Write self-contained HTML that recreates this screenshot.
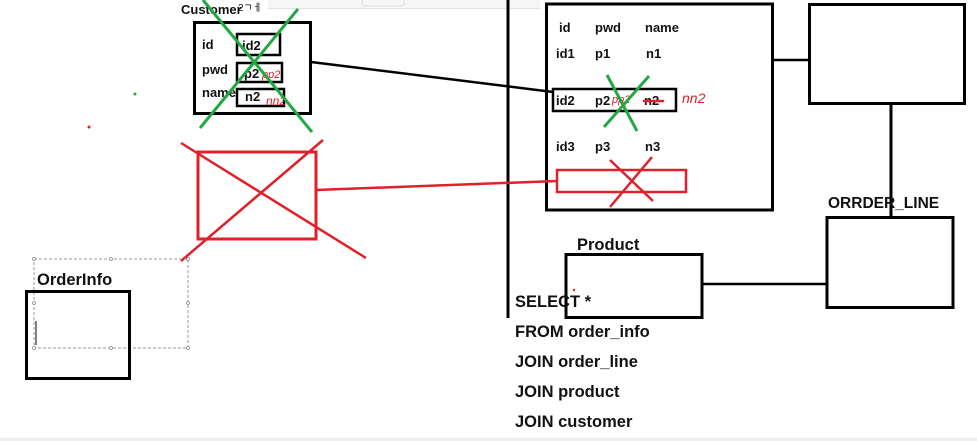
<!DOCTYPE html>
<html><head><meta charset="utf-8"><style>
html,body{margin:0;padding:0;background:#fff;width:977px;height:441px;overflow:hidden}
svg{display:block}
text{font-family:"Liberation Sans","Noto Sans CJK KR",sans-serif;font-weight:bold;fill:#111}
</style></head><body>
<svg width="977" height="441" viewBox="0 0 977 441" xmlns="http://www.w3.org/2000/svg">
<rect x="0" y="0" width="977" height="441" fill="#fff"/>
<rect x="268" y="0" width="272" height="8" fill="#f6f6f6"/>
<line x1="268" y1="8.5" x2="540" y2="8.5" stroke="#e2e2e2"/>
<rect x="362" y="-4" width="42" height="10" rx="3" fill="none" stroke="#ddd"/>
<rect x="0" y="438" width="977" height="3" fill="#eee"/>

<text x="181" y="14" font-size="13">Customer</text>
<text x="238" y="11" font-size="10" style="font-weight:normal">2ㄱㅔ</text>
<rect x="194.5" y="22.5" width="116" height="91" fill="none" stroke="#000" stroke-width="3"/>
<text x="202" y="49" font-size="13">id</text>
<text x="202" y="74" font-size="13">pwd</text>
<text x="202" y="97" font-size="13">name</text>
<rect x="237" y="34" width="43" height="21" fill="none" stroke="#000" stroke-width="2.5"/>
<text x="242" y="50" font-size="13">id2</text>
<rect x="237" y="63" width="45" height="19" fill="none" stroke="#000" stroke-width="2.5"/>
<text x="244" y="78" font-size="13">p2</text>
<rect x="237" y="89" width="47" height="17" fill="none" stroke="#000" stroke-width="2.5"/>
<text x="245" y="101" font-size="13">n2</text>
<text x="262" y="78" font-size="11" style="font-weight:normal;font-style:italic;fill:#e0202a">pp2</text>
<text x="266" y="105" font-size="12" style="font-weight:normal;font-style:italic;fill:#e0202a">nn2</text>
<line x1="200" y1="128" x2="298" y2="9" stroke="#22a843" stroke-width="3"/>
<line x1="203" y1="0" x2="312" y2="132" stroke="#22a843" stroke-width="3"/>

<circle cx="135" cy="94" r="1.5" fill="#22a843"/>
<circle cx="89" cy="127" r="1.5" fill="#e0202a"/>

<line x1="311" y1="62" x2="553" y2="92" stroke="#000" stroke-width="2.5"/>
<line x1="508" y1="0" x2="508" y2="318" stroke="#000" stroke-width="3"/>

<rect x="546.5" y="4" width="226" height="206" fill="none" stroke="#000" stroke-width="3"/>
<text x="559" y="32" font-size="13">id</text>
<text x="595" y="32" font-size="13">pwd</text>
<text x="645" y="32" font-size="13">name</text>
<text x="556" y="58" font-size="13">id1</text>
<text x="595" y="58" font-size="13">p1</text>
<text x="646" y="58" font-size="13">n1</text>
<rect x="553" y="89" width="123" height="22" fill="none" stroke="#000" stroke-width="2.5"/>
<text x="556" y="105" font-size="13">id2</text>
<text x="595" y="105" font-size="13">p2</text>
<text x="644" y="105" font-size="13">n2</text>
<line x1="643" y1="101" x2="664" y2="101" stroke="#e0202a" stroke-width="2.5"/>
<text x="612" y="103" font-size="11" style="font-weight:normal;font-style:italic;fill:#e0202a">pp2</text>
<text x="682" y="103" font-size="14" style="font-weight:normal;font-style:italic;fill:#e0202a">nn2</text>
<line x1="607" y1="75" x2="637" y2="131" stroke="#22a843" stroke-width="3"/>
<line x1="649" y1="76" x2="604" y2="127" stroke="#22a843" stroke-width="3"/>
<text x="556" y="151" font-size="13">id3</text>
<text x="595" y="151" font-size="13">p3</text>
<text x="645" y="151" font-size="13">n3</text>
<rect x="557" y="170" width="129" height="22" fill="none" stroke="#e0202a" stroke-width="2.5"/>
<line x1="610" y1="160" x2="653" y2="201" stroke="#e0202a" stroke-width="2.5"/>
<line x1="652" y1="157" x2="610" y2="207" stroke="#e0202a" stroke-width="2.5"/>

<rect x="198" y="152" width="118" height="87" fill="none" stroke="#e0202a" stroke-width="3"/>
<line x1="181" y1="143" x2="366" y2="258" stroke="#e0202a" stroke-width="2.5"/>
<line x1="323" y1="140" x2="181" y2="261" stroke="#e0202a" stroke-width="2.5"/>
<line x1="316" y1="190" x2="557" y2="181" stroke="#e0202a" stroke-width="2.5"/>

<rect x="809.5" y="4.5" width="155" height="99" fill="none" stroke="#000" stroke-width="3"/>
<line x1="773" y1="60" x2="809" y2="60" stroke="#000" stroke-width="2.5"/>
<line x1="891" y1="104" x2="891" y2="217" stroke="#000" stroke-width="3"/>
<text x="828" y="208" font-size="15.5">ORRDER_LINE</text>
<rect x="827" y="217.5" width="126" height="90" fill="none" stroke="#000" stroke-width="3"/>

<text x="577" y="250" font-size="16.5">Product</text>
<rect x="566" y="254.5" width="136" height="63" fill="none" stroke="#000" stroke-width="3"/>
<line x1="702" y1="284" x2="827" y2="284" stroke="#000" stroke-width="2.5"/>
<circle cx="574" cy="290" r="1.2" fill="#e0202a"/>

<text x="515" y="307" font-size="16.5">SELECT *</text>
<text x="515" y="337" font-size="16.5">FROM order_info</text>
<text x="515" y="367" font-size="16.5">JOIN order_line</text>
<text x="515" y="397" font-size="16.5">JOIN product</text>
<text x="515" y="427" font-size="16.5">JOIN customer</text>

<rect x="34" y="259" width="154" height="89" fill="none" stroke="#999" stroke-width="1" stroke-dasharray="3,2"/>
<g fill="#fff" stroke="#888" stroke-width="0.8">
<circle cx="34" cy="259" r="1.5"/><circle cx="111" cy="259" r="1.5"/><circle cx="188" cy="259" r="1.5"/>
<circle cx="34" cy="303" r="1.5"/><circle cx="188" cy="303" r="1.5"/>
<circle cx="34" cy="348" r="1.5"/><circle cx="111" cy="348" r="1.5"/><circle cx="188" cy="348" r="1.5"/>
</g>
<text x="37" y="285" font-size="16.5">OrderInfo</text>
<rect x="26.5" y="291.5" width="103" height="87" fill="none" stroke="#000" stroke-width="3"/>
<line x1="36" y1="321" x2="36" y2="345" stroke="#000" stroke-width="1"/>
</svg>
</body></html>
